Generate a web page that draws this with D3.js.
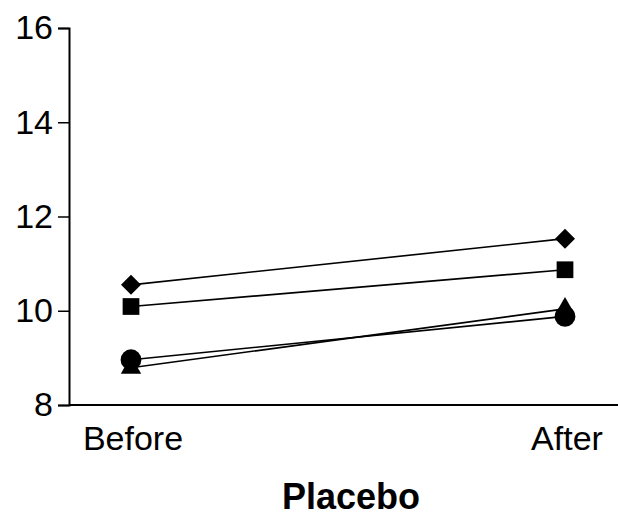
<!DOCTYPE html>
<html>
<head>
<meta charset="utf-8">
<script src="https://cdn.jsdelivr.net/npm/d3@7"></script>
<style>
  body { margin: 0; background: #fff; }
  text { font-family: "Liberation Sans", Arial, sans-serif; fill: #000; }
</style>
</head>
<body>
<svg id="chart" width="618" height="519"></svg>
<script>
// data
var timepoints = ['Before', 'After'];
var yTicks = [8, 10, 12, 14, 16];
var diamond = [10.55, 11.53];
var square = [10.09, 10.87];
var circle = [8.96, 9.88];
var triangle = [8.79, 10.04];

var series = [
  { shape: d3.symbolSquare, size: 200, rotate: 45, values: diamond },
  { shape: d3.symbolSquare, size: 280, rotate: 0, values: square },
  { shape: d3.symbolCircle, size: 340, rotate: 0, values: circle },
  { shape: d3.symbolTriangle, size: 180, rotate: 0, values: triangle }
];

var svg = d3.select('#chart');

var x = d3.scalePoint().domain(timepoints).range([131, 565]);
var y = d3.scaleLinear().domain([8, 16]).range([405, 28]);

// y axis
var yAxis = svg.append('g')
  .attr('transform', 'translate(69,0)')
  .call(d3.axisLeft(y).tickValues(yTicks).tickSize(11).tickPadding(5));
yAxis.select('.domain').attr('stroke', '#000').attr('stroke-width', 2);
yAxis.selectAll('.tick line').attr('stroke', '#000').attr('stroke-width', 1.5);
yAxis.selectAll('.tick text')
  .attr('font-size', 34)
  .attr('font-family', '"Liberation Sans", Arial, sans-serif')
  .attr('fill', '#000');

// x axis baseline
svg.append('line')
  .attr('x1', 69).attr('x2', 618)
  .attr('y1', y(8)).attr('y2', y(8))
  .attr('stroke', '#000').attr('stroke-width', 2);

svg.selectAll('.xlabel')
  .data(timepoints)
  .enter().append('text')
  .attr('class', 'xlabel')
  .attr('x', function(d) { return x(d) + 2; })
  .attr('y', 450)
  .attr('text-anchor', 'middle')
  .attr('font-size', 34)
  .text(function(d) { return d; });

svg.append('text')
  .attr('x', 351)
  .attr('y', 509)
  .attr('text-anchor', 'middle')
  .attr('font-size', 36)
  .attr('font-weight', 'bold')
  .text('Placebo');

var line = d3.line()
  .x(function(d, i) { return x(timepoints[i]); })
  .y(function(d) { return y(d); });

var groups = svg.selectAll('.series')
  .data(series)
  .enter().append('g')
  .attr('class', 'series');

groups.append('path')
  .attr('d', function(s) { return line(s.values); })
  .attr('fill', 'none')
  .attr('stroke', '#000')
  .attr('stroke-width', 1.6);

groups.each(function(s) {
  d3.select(this).selectAll('path.pt')
    .data(s.values)
    .enter().append('path')
    .attr('class', 'pt')
    .attr('transform', function(d, i) {
      return 'translate(' + x(timepoints[i]) + ',' + y(d) + ') rotate(' + s.rotate + ')';
    })
    .attr('d', d3.symbol().type(s.shape).size(s.size))
    .attr('fill', '#000');
});
</script>
</body>
</html>
